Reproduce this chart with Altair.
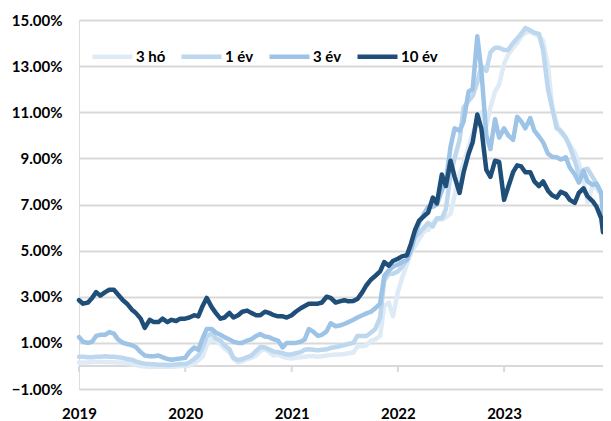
import altair as alt
import pandas as pd

series_names = ["3 hó", "1 év", "3 év", "10 év"]
colors = ["#DEEBF7", "#BDD7EE", "#9DC3E6", "#1F4E79"]
years = [2019, 2020, 2021, 2022, 2023]
year_starts = [f"{y}-01-01" for y in years]

# semi-monthly observation dates (1st and 15th), last one 2023-12-07
dates = [f"{y}-{m:02d}-{d:02d}" for y in years for m in range(1, 13) for d in (1, 15)][:-1] + ["2023-12-07"]

y3m = [
    0.15, 0.15, 0.15, 0.17, 0.17, 0.17, 0.17, 0.16, 0.16, 0.15, 0.15, 0.12, 0.08, 0.04, 0.0, -0.02, -0.03, -0.04, -0.04, -0.04, -0.03, -0.03, -0.02, 0.0,
    0.0, 0.02, 0.1, 0.25, 0.4, 0.9, 1.15, 1.1, 0.95, 0.75, 0.6, 0.3, 0.15, 0.2, 0.3, 0.35, 0.45, 0.65, 0.75, 0.6, 0.45, 0.5, 0.4, 0.35,
    0.32, 0.35, 0.38, 0.4, 0.42, 0.42, 0.4, 0.42, 0.45, 0.48, 0.5, 0.5, 0.52, 0.55, 0.58, 0.85, 0.85, 0.9, 1.1, 1.15, 1.3, 2.6, 2.75, 2.15,
    3.2, 3.8, 4.4, 4.9, 5.2, 5.5, 5.85, 5.9, 6.2, 6.35, 6.35, 6.45, 6.6, 7.4, 8.3, 8.8, 9.5, 10.1, 10.6, 11.0, 10.4, 11.2, 11.9, 12.2,
    13.1, 13.5, 13.8, 14.0, 14.3, 14.45, 14.5, 14.4, 14.3, 14.1, 13.0, 11.3, 10.5, 10.1, 9.9, 9.6, 9.25, 8.8, 8.0, 7.1, 7.8, 7.7, 7.4, 7.2,
]
y1 = [
    0.4, 0.4, 0.38, 0.38, 0.4, 0.4, 0.42, 0.4, 0.4, 0.38, 0.35, 0.3, 0.27, 0.2, 0.13, 0.1, 0.08, 0.07, 0.05, 0.05, 0.04, 0.04, 0.06, 0.08,
    0.08, 0.15, 0.3, 0.45, 0.8, 1.25, 1.42, 1.2, 1.1, 0.9, 0.72, 0.35, 0.25, 0.3, 0.38, 0.45, 0.65, 0.82, 0.8, 0.72, 0.62, 0.6, 0.55, 0.5,
    0.5, 0.55, 0.6, 0.7, 0.72, 0.7, 0.68, 0.7, 0.72, 0.78, 0.82, 0.85, 0.9, 0.95, 1.0, 1.3, 1.3, 1.3, 1.45, 1.6, 2.1, 3.7, 4.0, 4.0,
    4.1, 4.3, 4.6, 5.1, 5.6, 5.75, 6.0, 6.2, 6.05, 6.4, 6.4, 6.8, 8.3, 9.0, 9.8, 11.2, 11.5, 11.7, 12.3, 13.0, 12.8, 13.6, 13.8, 13.8,
    13.7, 13.7, 14.0, 14.2, 14.4, 14.65, 14.55, 14.45, 14.4, 13.7, 12.0, 11.2, 10.3, 10.2, 9.9, 9.5, 8.9, 8.3, 8.5, 8.55, 8.2, 7.9, 7.5, 7.0,
]
y3 = [
    1.25, 1.05, 1.0, 1.05, 1.3, 1.35, 1.35, 1.47, 1.4, 1.15, 1.0, 0.95, 0.9, 0.82, 0.6, 0.45, 0.42, 0.42, 0.45, 0.38, 0.3, 0.27, 0.3, 0.32,
    0.35, 0.6, 0.8, 0.7, 1.2, 1.6, 1.6, 1.45, 1.35, 1.25, 1.15, 1.05, 1.0, 1.0, 1.1, 1.15, 1.3, 1.38, 1.28, 1.25, 1.15, 1.1, 0.8, 1.0,
    1.0, 1.0, 1.05, 1.15, 1.6, 1.5, 1.3, 1.35, 1.5, 1.85, 1.72, 1.75, 1.82, 1.9, 2.0, 2.1, 2.2, 2.28, 2.35, 2.5, 2.7, 3.9, 4.15, 4.3,
    4.4, 4.5, 4.6, 5.0, 5.7, 6.2, 6.6, 6.9, 6.9, 7.0, 7.6, 8.0, 9.5, 10.3, 10.2, 10.6, 11.9, 12.0, 14.3, 12.8, 10.0, 9.4, 10.7, 9.9,
    10.3, 10.0, 9.8, 10.8, 10.6, 10.3, 10.75, 10.2, 9.95, 9.7, 9.2, 9.07, 9.05, 8.95, 9.05, 8.6, 8.3, 7.95, 8.45, 8.0, 7.85, 7.9, 7.5, 6.5,
]
y10 = [
    2.85, 2.7, 2.75, 2.95, 3.2, 3.05, 3.2, 3.3, 3.3, 3.1, 2.85, 2.7, 2.45, 2.3, 2.05, 1.65, 2.0, 1.9, 1.9, 2.05, 1.9, 2.0, 1.95, 2.05,
    2.05, 2.1, 2.2, 2.15, 2.6, 2.95, 2.55, 2.3, 2.05, 2.1, 2.3, 2.1, 2.2, 2.35, 2.4, 2.3, 2.2, 2.2, 2.35, 2.3, 2.2, 2.15, 2.15, 2.1,
    2.2, 2.35, 2.5, 2.6, 2.7, 2.7, 2.7, 2.75, 3.0, 2.95, 2.75, 2.8, 2.85, 2.8, 2.82, 2.9, 3.2, 3.5, 3.75, 3.9, 4.1, 4.5, 4.35, 4.55,
    4.65, 4.75, 4.8, 5.3, 5.9, 6.3, 6.5, 6.65, 7.3, 7.05, 8.3, 7.8, 8.9, 8.2, 7.5, 8.4, 9.2, 9.7, 10.9, 10.3, 8.5, 8.2, 8.9, 8.85,
    7.2, 7.75, 8.4, 8.7, 8.65, 8.4, 8.4, 8.0, 7.8, 8.0, 7.6, 7.4, 7.3, 7.55, 7.45, 7.2, 7.07, 7.5, 7.7, 7.35, 7.15, 6.9, 6.4, 5.8,
]

y_ticks = [-1, 1, 3, 5, 7, 9, 11, 13, 15]
zero_level = [0]
tick_bottom = -0.26  # length of the year tick marks below the zero line, in axis units

rows = []
for name, vals in zip(series_names, [y3m, y1, y3, y10]):
    for d, v in zip(dates, vals):
        rows.append({"date": d, "value": v, "series": name})
df = pd.DataFrame(rows)
ticks_df = pd.DataFrame({"date": year_starts, "top": [0] * len(year_starts), "bottom": [tick_bottom] * len(year_starts)})
zero_df = pd.DataFrame({"value": zero_level})

FONT = "Lato"
GRID = "#d9d9d9"

x_scale = alt.Scale(type="utc", domain=["2019-01-01", "2023-12-07"])
y_scale = alt.Scale(domain=[-1, 15], nice=False, zero=False)

x_axis = alt.Axis(
    values=[pd.Timestamp(d).value // 10**6 for d in year_starts],
    format="%Y",
    formatType="utc",
    title=None,
    grid=False,
    domain=False,
    ticks=False,
    labelPadding=17,
    labelFont=FONT,
    labelFontSize=15,
    labelFontWeight="bold",
    labelColor="#000000",
    labelFlush=False,
    labelOverlap=False,
    labelBaseline="top",
)

y_axis = alt.Axis(
    values=y_ticks,
    labelExpr="format(datum.value, '.2f') + '%'",
    title=None,
    domain=False,
    ticks=False,
    grid=True,
    gridColor=GRID,
    gridWidth=2,
    labelPadding=17,
    labelFont=FONT,
    labelFontSize=15,
    labelFontWeight="bold",
    labelColor="#000000",
)

legend = alt.Legend(
    title=None,
    orient="none",
    legendX=11,
    legendY=14,
    direction="horizontal",
    symbolType="stroke",
    symbolSize=1600,
    symbolStrokeWidth=4.5,
    labelFont=FONT,
    labelFontSize=15,
    labelFontWeight="bold",
    labelColor="#000000",
    labelOffset=1,
    columnPadding=6,
    padding=0,
)

zero_line = alt.Chart(zero_df).mark_rule(color=GRID, strokeWidth=2).encode(
    y=alt.Y("value:Q", scale=y_scale, axis=y_axis)
)

year_ticks = alt.Chart(ticks_df).mark_rule(color=GRID, strokeWidth=2).encode(
    x=alt.X("date:T", scale=x_scale, axis=x_axis),
    y=alt.Y("top:Q", scale=y_scale),
    y2="bottom:Q",
)

lines = alt.Chart(df).mark_line(strokeWidth=4.5, strokeJoin="round", strokeCap="round").encode(
    x=alt.X("date:T", scale=x_scale, axis=x_axis),
    y=alt.Y("value:Q", scale=y_scale, axis=y_axis),
    color=alt.Color("series:N", scale=alt.Scale(domain=series_names, range=colors), legend=legend),
)

chart = (
    alt.layer(zero_line, year_ticks, lines)
    .properties(
        width=524,
        height=369,
        autosize=alt.AutoSizeParams(type="none"),
        padding={"left": 71, "top": 12, "right": 0, "bottom": 32},
    )
    .configure_view(stroke=None)
    .configure(background="white")
)

chart.save("out.html", embed_options={"renderer": "svg", "actions": False})
